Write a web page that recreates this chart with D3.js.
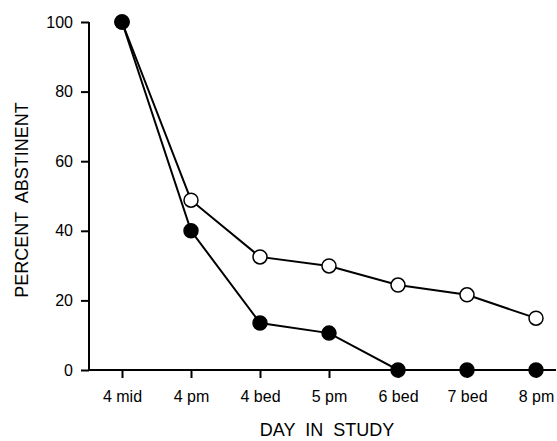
<!DOCTYPE html>
<html>
<head>
<meta charset="utf-8">
<script src="https://cdn.jsdelivr.net/npm/d3@7"></script>
<style>
  body { margin: 0; background: #fff; }
  svg { display: block; }
  .axis text { font-family: "Liberation Sans", Arial, sans-serif; font-size: 16px; fill: #000; }
  .axis path, .axis line { stroke: #000; stroke-width: 2; }
  .title { font-family: "Liberation Sans", Arial, sans-serif; font-size: 18px; fill: #000; white-space: pre; }
</style>
</head>
<body>
<div class="chart"></div>
<script>
const days = ['4 mid', '4 pm', '4 bed', '5 pm', '6 bed', '7 bed', '8 pm'];
const openValues = [100, 48.8, 32.5, 29.9, 24.4, 21.6, 14.9];
const filledValues = [100, 40, 13.5, 10.6, 0, 0, 0];
const yTicks = [0, 20, 40, 60, 80, 100];

let width = 557;
let height = 441;
let margin = {top: 22, right: 1, bottom: 71, left: 89};

const svg = d3.select('.chart')
  .append('svg')
  .attr('width', width)
  .attr('height', height);

const x = d3.scalePoint()
  .domain(days)
  .range([122, 536]);

const y = d3.scaleLinear()
  .domain([0, 100])
  .range([height - margin.bottom, margin.top]);

// y axis
const yAxis = svg.append('g')
  .attr('class', 'axis')
  .attr('transform', 'translate(' + margin.left + ',0)')
  .call(d3.axisLeft(y).tickValues(yTicks).tickSize(8).tickSizeOuter(0).tickPadding(8));
yAxis.select('.domain').attr('d', 'M0,' + y(100) + 'V' + y(0));

// x axis
const xAxis = svg.append('g')
  .attr('class', 'axis')
  .attr('transform', 'translate(0,' + y(0) + ')')
  .call(d3.axisBottom(x).tickSize(8).tickSizeOuter(0).tickPadding(10));
xAxis.select('.domain').attr('d', 'M' + margin.left + ',0H' + (width - margin.right));
xAxis.selectAll('text').attr('dy', '0.85em');

// titles
svg.append('text')
  .attr('class', 'title')
  .attr('transform', 'translate(22,' + (y(50) + 4) + ')rotate(-90)')
  .attr('text-anchor', 'middle')
  .attr('dy', '0.35em')
  .text('PERCENT  ABSTINENT');

svg.append('text')
  .attr('class', 'title')
  .attr('x', (x('4 pm') + x('7 bed')) / 2 - 2)
  .attr('y', 436)
  .attr('text-anchor', 'middle')
  .text('DAY  IN  STUDY');

const line = d3.line()
  .x((d, i) => x(days[i]))
  .y(d => y(d));

const series = [
  {values: openValues, fill: '#fff'},
  {values: filledValues, fill: '#000'}
];

series.forEach(s => {
  svg.append('path')
    .datum(s.values)
    .attr('fill', 'none')
    .attr('stroke', '#000')
    .attr('stroke-width', 2)
    .attr('d', line);
});

series.forEach(s => {
  svg.append('g')
    .selectAll('circle')
    .data(s.values)
    .enter()
    .append('circle')
    .attr('cx', (d, i) => x(days[i]))
    .attr('cy', d => y(d))
    .attr('r', 7)
    .attr('fill', s.fill)
    .attr('stroke', '#000')
    .attr('stroke-width', 1.5);
});
</script>
</body>
</html>
